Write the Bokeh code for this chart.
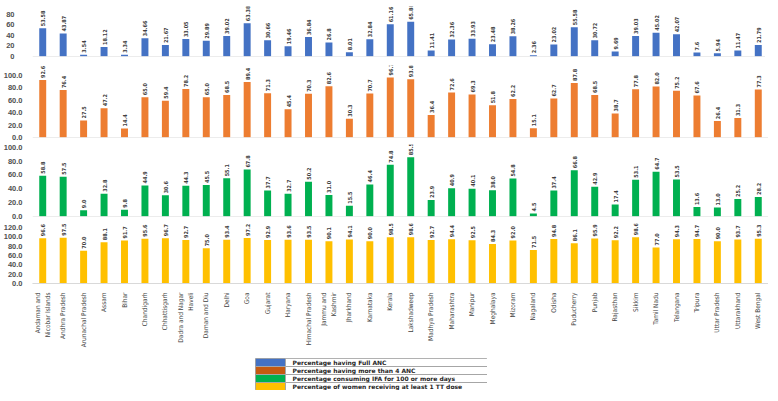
from math import pi
from bokeh.plotting import figure
from bokeh.layouts import column, row, Spacer
from bokeh.models import (ColumnDataSource, LabelSet, Span, FixedTicker,
                          NumeralTickFormatter, Range1d, FactorRange)
from bokeh.core.properties import value
from bokeh.embed import file_html
from bokeh.resources import INLINE

states = ["Andaman and\nNicobar Islands", "Andhra Pradesh", "Arunachal Pradesh", "Assam", "Bihar",
          "Chandigarh", "Chhattisgarh", "Dadra and Nagar\nHaveli", "Daman and Diu", "Delhi", "Goa",
          "Gujarat", "Haryana", "Himachal Pradesh", "Jammu and\nKashmir", "Jharkhand", "Karnataka",
          "Kerala", "Lakshadweep", "Madhya Pradesh", "Maharashtra", "Manipur", "Meghalaya", "Mizoram",
          "Nagaland", "Odisha", "Puducherry", "Punjab", "Rajasthan", "Sikkim", "Tamil Nadu",
          "Telangana", "Tripura", "Uttar Pradesh", "Uttarakhand", "West Bengal"]

full_anc = [53.58, 43.87, 3.54, 18.12, 3.34, 34.66, 21.67, 33.05, 29.89, 39.02, 63.38, 30.66,
            19.46, 36.84, 26.8, 8.01, 32.84, 61.16, 65.88, 11.41, 32.36, 33.93, 23.48, 38.26,
            2.36, 23.02, 55.58, 30.72, 9.69, 39.03, 45.02, 42.07, 7.6, 5.94, 11.47, 21.79]
anc4 = [92.6, 76.4, 27.5, 47.2, 14.4, 65.0, 59.4, 78.2, 65.0, 68.5, 89.4, 71.3, 45.4, 70.3,
        82.6, 30.3, 70.7, 96.7, 93.8, 36.4, 72.6, 69.3, 51.8, 62.2, 15.1, 62.7, 87.8, 68.5,
        38.7, 77.8, 82.0, 75.2, 67.6, 26.4, 31.3, 77.3]
ifa = [58.8, 57.5, 9.0, 32.8, 9.8, 44.9, 30.6, 44.3, 45.5, 55.1, 67.8, 37.7, 32.7, 50.2, 31.0,
       15.5, 46.4, 74.8, 85.5, 23.9, 40.9, 40.1, 38.0, 54.8, 4.5, 37.4, 66.8, 42.9, 17.4, 53.1,
       64.7, 53.5, 13.6, 13.0, 25.2, 28.2]
tt = [96.6, 97.5, 70.0, 88.1, 91.7, 95.6, 96.7, 92.7, 75.0, 93.4, 97.2, 92.9, 93.6, 93.5, 90.1,
      94.1, 90.0, 98.5, 98.6, 92.7, 94.4, 92.5, 84.3, 92.0, 71.5, 94.8, 86.1, 95.9, 92.2, 98.6,
      77.0, 94.3, 94.7, 90.0, 93.7, 95.3]

series_names = ["Percentage having Full ANC", "Percentage having more than 4 ANC",
                "Percentage consuming IFA for 100 or more days",
                "Percentage of women receiving at least 1 TT dose"]
bar_colors = ["#4472C4", "#ED7D31", "#00B050", "#FFC000"]
legend_colors = ["#4472C4", "#C55A11", "#00B050", "#FFC000"]

FRAME_W = 736
xr = FactorRange(factors=states, range_padding=0)
LABEL_FONT = "Liberation Sans Narrow, DejaVu Sans Condensed, Liberation Sans"


def panel(values, color, yend, ticks, fmt, frame_h, top_border, bottom_border, labels,
          show_x=False, standoff=4):
    p = figure(x_range=xr, y_range=Range1d(0, yend), frame_width=FRAME_W, frame_height=frame_h,
               output_backend="svg", toolbar_location=None,
               min_border_left=26, min_border_right=0,
               min_border_top=top_border, min_border_bottom=bottom_border)
    src = ColumnDataSource(dict(state=states, value=values, label=labels))
    p.vbar(x="state", top="value", width=0.34, source=src, fill_color=color, line_color=None)
    p.add_layout(LabelSet(x="state", y="value", text="label", source=src, angle=pi / 2,
                          text_align="left", text_baseline="middle", y_offset=2,
                          text_font_size="5.5px", text_font_style="bold", text_color="#404040",
                          text_font=value(LABEL_FONT)))
    p.add_layout(Span(location=0, dimension="width", line_color="#d9d9d9", line_width=1))
    p.grid.visible = False
    p.outline_line_color = None
    p.yaxis.ticker = FixedTicker(ticks=ticks)
    p.yaxis.formatter = NumeralTickFormatter(format=fmt)
    p.yaxis.axis_line_color = None
    p.yaxis.major_tick_line_color = None
    p.yaxis.minor_tick_line_color = None
    p.yaxis.major_label_text_font_size = "7.5px"
    p.yaxis.major_label_text_font_style = "bold"
    p.yaxis.major_label_text_color = "#505050"
    p.yaxis.major_label_standoff = standoff
    if show_x:
        p.xaxis.major_label_orientation = pi / 2
        p.xaxis.major_label_text_font_size = "6.5px"
        p.xaxis.major_label_text_font = LABEL_FONT
        p.xaxis.major_label_text_color = "#404040"
        p.xaxis.axis_line_color = "#d9d9d9"
        p.xaxis.major_tick_line_color = None
        p.xaxis.major_label_standoff = 3
    else:
        p.xaxis.visible = False
    return p


p1 = panel(full_anc, bar_colors[0], 95, [0, 20, 40, 60, 80], "0", 50, 6, 4,
           [str(v) for v in full_anc], standoff=12)
p2 = panel(anc4, bar_colors[1], 116, [0, 20, 40, 60, 80, 100], "0.0", 72, 5, 4,
           [f"{v:.1f}" for v in anc4])
p3 = panel(ifa, bar_colors[2], 104, [0, 20, 40, 60, 80, 100], "0.0", 72, 3, 4,
           [f"{v:.1f}" for v in ifa])
p4 = panel(tt, bar_colors[3], 128, [0, 20, 40, 60, 80, 100, 120], "0.0", 60, 3, 0,
           [f"{v:.1f}" for v in tt], show_x=True)

# legend drawn as a small table
leg = figure(width=232, height=32, toolbar_location=None, output_backend="svg",
             x_axis_type=None, y_axis_type=None, min_border=0,
             x_range=Range1d(0, 232), y_range=FactorRange(factors=list(reversed(series_names)),
                                                        range_padding=0))
leg.outline_line_color = "#a6a6a6"
leg.grid.visible = False
lsrc = ColumnDataSource(dict(name=series_names, color=legend_colors))
leg.hbar(y="name", left=0, right=30, height=1, source=lsrc, fill_color="color",
         line_color="#a6a6a6")
leg.hbar(y="name", left=30, right=232, height=1, source=lsrc, fill_color="white",
         line_color="#a6a6a6")
leg.text(x=37, y="name", text="name", source=lsrc, text_baseline="middle", text_align="left",
         text_font_size="6px", text_font_style="bold", text_color="#262626",
         text_font=value("DejaVu Sans"))

layout = column(p1, p2, p3, p4, Spacer(height=8), row(Spacer(width=255, height=32), leg))

open("out.html", "w").write(file_html(layout, INLINE))
